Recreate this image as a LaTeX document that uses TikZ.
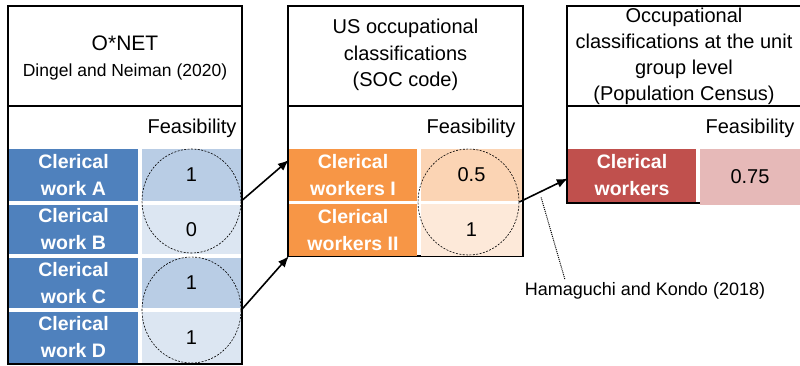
\documentclass[tikz,border=0pt]{standalone}
\usepackage{fontspec}
\setmainfont{Liberation Sans}
\usetikzlibrary{arrows.meta,shapes.geometric,calc}

\definecolor{blueD}{HTML}{4F81BD}
\definecolor{blueM}{HTML}{B9CDE5}
\definecolor{blueL}{HTML}{DCE6F2}
\definecolor{orangeD}{HTML}{F79646}
\definecolor{orangeM}{HTML}{FBD4B4}
\definecolor{orangeL}{HTML}{FDE9D9}
\definecolor{redD}{HTML}{C0504D}
\definecolor{redL}{HTML}{E6B9B8}

\tikzset{
  frame/.style={draw=black, line width=1.6pt, inner sep=0pt},
  hdr/.style={font=\fontsize{20}{26.5}\selectfont, align=center, inner sep=0pt},
  feas/.style={font=\fontsize{20}{24}\selectfont, inner sep=0pt, anchor=base},
  namecell/.style={fill=#1, text=white, inner sep=0pt, align=center,
    font=\bfseries\fontsize{19.5}{27}\selectfont},
  valcell/.style={fill=#1, text=black, inner sep=0pt,
    font=\fontsize{20}{24}\selectfont},
  group/.style={draw=black, ellipse, dash pattern=on 2pt off 1.4pt,
    line width=0.6pt, inner sep=0pt},
  link/.style={line width=1.6pt, -{Latex[length=11pt,width=9pt]}},
}

\begin{document}
\begin{tikzpicture}[x=1pt,y=-1pt]
\useasboundingbox (0,0) rectangle (800,365);

% ---------- O*NET panel ----------
\node[frame, minimum width=234pt, minimum height=358pt] (p1) at (125,185) {};
\node[frame, minimum width=234pt, minimum height=100pt] (h1) at (125,56) {};
\node[font=\fontsize{21}{26}\selectfont, inner sep=0pt, anchor=base] (t1a) at (125,50) {O*NET};
\node[font=\fontsize{17.5}{22}\selectfont, inner sep=0pt, anchor=base] (t1b) at (125,76) {Dingel and Neiman (2020)};
\node[feas] (f1) at (192,133) {Feasibility};

\node[namecell=blueD, minimum width=129pt, minimum height=52pt] (a) at (73.5,175) {Clerical\\work A};
\node[namecell=blueD, minimum width=129pt, minimum height=49pt] (b) at (73.5,229.5) {Clerical\\work B};
\node[namecell=blueD, minimum width=129pt, minimum height=50pt] (c) at (73.5,283) {Clerical\\work C};
\node[namecell=blueD, minimum width=129pt, minimum height=51pt] (d) at (73.5,337.5) {Clerical\\work D};
\node[valcell=blueM, minimum width=99pt, minimum height=52pt] (va) at (191.5,175) {1};
\node[valcell=blueL, minimum width=99pt, minimum height=49pt] (vb) at (191.5,229.5) {0};
\node[valcell=blueM, minimum width=99pt, minimum height=50pt] (vc) at (191.5,283) {1};
\node[valcell=blueL, minimum width=99pt, minimum height=51pt] (vd) at (191.5,337.5) {1};

\node[group, minimum width=99pt, minimum height=104pt] (g1) at (191.5,201) {};
\node[group, minimum width=99pt, minimum height=106pt] (g2) at (191.5,310) {};

% ---------- SOC panel ----------
\node[frame, minimum width=235pt, minimum height=250pt] (p2) at (405.5,131) {};
\node[frame, minimum width=235pt, minimum height=100pt] (h2) at (405.5,56) {};
\node[hdr] (t2) at (405.5,55) {US occupational\\classifications\\(SOC code)};
\node[feas] (f2) at (471,133) {Feasibility};

\node[namecell=orangeD, minimum width=128pt, minimum height=52pt] (s1) at (353,175) {Clerical\\workers I};
\node[namecell=orangeD, minimum width=128pt, minimum height=52pt] (s2) at (353,230) {Clerical\\workers II};
\node[valcell=orangeM, minimum width=101pt, minimum height=52pt] (vs1) at (471.5,175) {0.5};
\node[valcell=orangeL, minimum width=101pt, minimum height=52pt] (vs2) at (471.5,230) {1};

\node[group, minimum width=101pt, minimum height=106pt] (g3) at (468.5,202) {};

% ---------- Census panel (runs past the right edge) ----------
\node[frame, minimum width=238pt, minimum height=197pt] (p3) at (686,104.5) {};
\node[frame, minimum width=238pt, minimum height=100pt] (h3) at (686,56) {};
\node[hdr, font=\fontsize{20}{26}\selectfont] (t3) at (684,56)
  {Occupational\\classifications at the unit\\group level\\(Population Census)};
\node[feas] (f3) at (750,133) {Feasibility};

\node[namecell=redD, minimum width=128pt, minimum height=53pt] (r1) at (632,175.5) {Clerical\\workers};
% value cell reaches down over the frame's bottom edge
\node[valcell=redL, minimum width=100pt, minimum height=56pt] (vr1) at (750,177) {\raisebox{1.5pt}{0.75}};

% ---------- connectors ----------
\draw[link] (g1.east) -- ([yshift=15pt]s1.west);
\draw[link] (g2.east) -- (s2.south west);
\draw[link] (g3.east) -- coordinate[pos=0.45] (mid) ([yshift=-3pt]r1.west);

\node[font=\fontsize{18}{22}\selectfont, inner sep=0pt, anchor=base] (hk) at (645,295) {Hamaguchi and Kondo (2018)};
\draw[densely dotted, line width=1pt] ([yshift=-6pt]mid) -- ([xshift=-80pt,yshift=2pt]hk.north);
\end{tikzpicture}
\end{document}
